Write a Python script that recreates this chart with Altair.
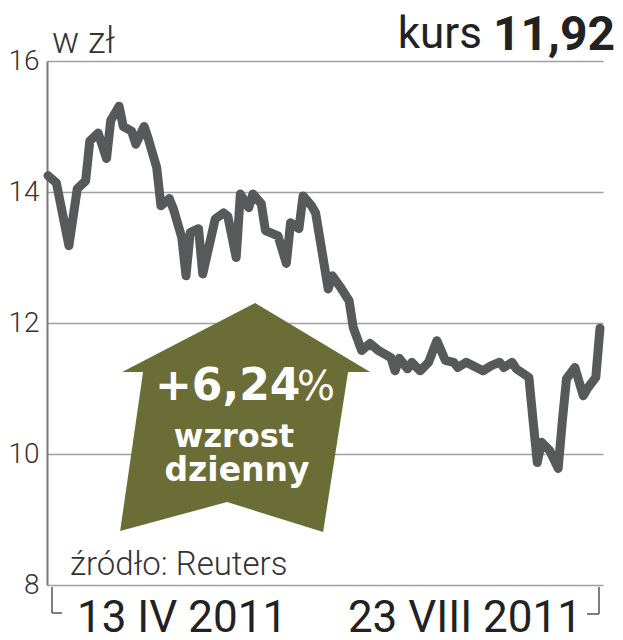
import altair as alt
import pandas as pd

# days counted from 13 IV 2011 (start) to 23 VIII 2011 (end, day 132)
day_offsets = [0, 2, 5, 7, 9, 10, 12, 14, 15, 17,
               18, 20, 21, 23, 24, 26, 27, 29, 30, 32,
               33, 34, 36, 37, 40, 42, 43, 45, 46, 48,
               49, 51, 52, 55, 57, 58, 60, 61, 63, 64,
               67, 68, 70, 72, 73, 75, 77, 79, 82, 83,
               84, 86, 87, 89, 91, 93, 95, 97, 98, 100,
               104, 106, 108, 109, 111, 112, 115, 116, 117, 118,
               120, 122, 123, 124, 126, 128, 129, 131, 132]
prices = [14.25, 14.14, 13.18, 14.05, 14.17, 14.78, 14.90, 14.51, 15.09, 15.31,
          15.00, 14.93, 14.73, 15.00, 14.81, 14.37, 13.79, 13.90, 13.74, 13.30,
          12.72, 13.38, 13.44, 12.75, 13.59, 13.68, 13.63, 13.00, 13.97, 13.76,
          13.97, 13.82, 13.41, 13.33, 12.91, 13.53, 13.44, 13.94, 13.79, 13.68,
          12.52, 12.72, 12.54, 12.34, 11.93, 11.58, 11.69, 11.58, 11.47, 11.27,
          11.46, 11.30, 11.40, 11.27, 11.40, 11.73, 11.43, 11.40, 11.32, 11.40,
          11.27, 11.35, 11.40, 11.32, 11.40, 11.30, 11.17, 10.51, 9.87, 10.18,
          10.05, 9.78, 10.51, 11.15, 11.32, 10.89, 11.00, 11.17, 11.92]

y_ticks = [8, 10, 12, 14, 16]
date_labels = ["13 IV 2011", "23 VIII 2011"]
unit_label = "w zł"
kurs_label = "kurs"
kurs_value = "11,92"
change_label = "+6,24"
change_pct = "%"
change_words = ["wzrost", "dzienny"]
source_label = "źródło: Reuters"
arrow_center = {"day": [46.9], "value": [10.55]}

OLIVE = "#6b6d36"
LINE = "#58595b"

df = pd.DataFrame({"day": day_offsets, "value": prices})

xs = alt.Scale(domain=[-0.24, 132.72], nice=False, zero=False)
ys = alt.Scale(domain=[8, 16], nice=False, zero=False)

yaxis = alt.Axis(values=y_ticks, format="d", grid=True, gridColor="#a0a0a0", gridWidth=1.5,
                 ticks=False, domain=True, domainColor="#7a7a7a", domainWidth=2,
                 labelFont="Roboto", labelFontSize=28, labelFontWeight=300,
                 labelColor="#333333", labelPadding=8, labelFlush=False,
                 labelOverlap=False, title=None)

base_axes = alt.Chart(df).mark_line(opacity=0).encode(
    x=alt.X("day:Q", scale=xs, axis=None),
    y=alt.Y("value:Q", scale=ys, axis=yaxis),
)

arrow_path = ("M0.087,-0.913 L1,-0.365 L0.825,-0.365 L0.627,0.905 "
              "L-0.135,0.667 L-0.984,0.897 L-0.802,-0.365 L-0.968,-0.365 Z")
arrow = alt.Chart(pd.DataFrame(arrow_center)).mark_point(
    shape=arrow_path, size=63504, filled=True, color=OLIVE, opacity=1, strokeWidth=0
).encode(x=alt.X("day:Q", scale=xs), y=alt.Y("value:Q", scale=ys))

line = alt.Chart(df).mark_line(color=LINE, strokeWidth=9, strokeJoin="round",
                               strokeCap="round").encode(
    x=alt.X("day:Q", scale=xs), y=alt.Y("value:Q", scale=ys))


def label(text, x, y, size, weight=400, color="#222222", align="left",
          font="Roboto"):
    return alt.Chart(pd.DataFrame({"t": [text]})).mark_text(
        font=font, fontSize=size, fontWeight=weight, color=color,
        align=align, baseline="alphabetic"
    ).encode(x=alt.value(x), y=alt.value(y), text="t:N")


one = pd.DataFrame({"k": [0]})
rule_style = dict(color="#555555", strokeWidth=1.5)
brackets = [
    alt.Chart(one).mark_rule(**rule_style).encode(x=alt.value(5), y=alt.value(526), y2=alt.value(552)),
    alt.Chart(one).mark_rule(**rule_style).encode(x=alt.value(5), x2=alt.value(15), y=alt.value(552)),
    alt.Chart(one).mark_rule(**rule_style).encode(x=alt.value(552), y=alt.value(526), y2=alt.value(553)),
    alt.Chart(one).mark_rule(**rule_style).encode(x=alt.value(540), x2=alt.value(552), y=alt.value(553)),
]

texts = [
    label(unit_label, 5, -8, 36, 300, "#333333"),
    label(kurs_label, 435, -13, 44, 400, "#222222", "right"),
    label(kurs_value, 568, -11, 48, 700, "#222222", "right"),
    label(source_label, 23, 514, 33, 300, "#333333"),
    label(date_labels[0], 30, 571, 44, 400, "#222222"),
    label(date_labels[1], 535, 571, 44, 400, "#222222", "right"),
    label(change_label, 108, 339, 44, 700, "white", "left", "DejaVu Sans"),
    label(change_pct, 250, 339, 40, 400, "white", "left", "DejaVu Sans"),
    label(change_words[0], 187, 386, 32, 700, "white", "center", "DejaVu Sans"),
    label(change_words[1], 190, 420, 33, 700, "white", "center", "DejaVu Sans"),
]

chart = alt.layer(base_axes, arrow, line, *brackets, *texts).properties(
    width=556, height=524,
    padding={"left": 39, "top": 53, "right": 12, "bottom": 47},
    autosize=alt.AutoSizeParams(type="none"),
).configure_view(stroke=None)

chart.save("out.html", embed_options={"renderer": "svg", "actions": False})
